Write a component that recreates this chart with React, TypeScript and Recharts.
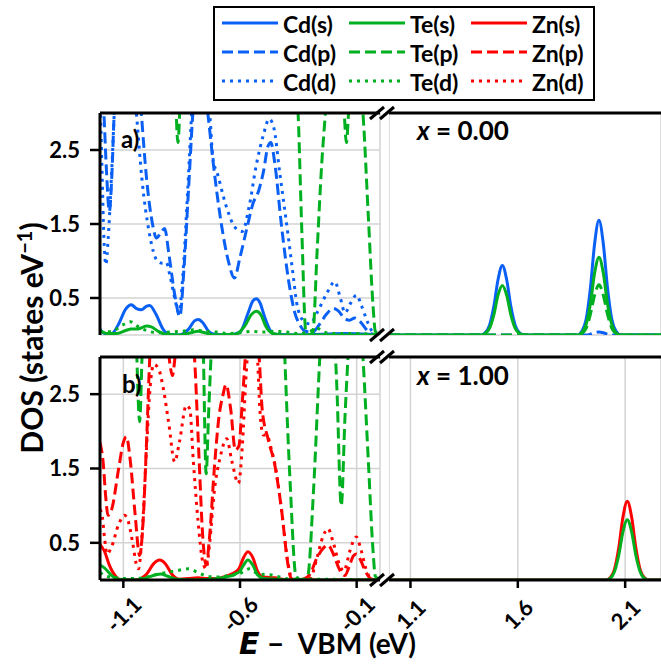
import React from 'react';
import { LineChart, Line, XAxis, YAxis, CartesianGrid, ReferenceLine } from 'recharts';

const BLUE = '#0a60f5';
const GREEN = '#00b020';
const RED = '#ff0000';
const GRID = '#d3d3d3';
const FONT = 'Lato, "DejaVu Sans", sans-serif';

const DASH = '11 5';
const DOT = '3 5';

const yTicks = [0.5, 1.5, 2.5];
const leftTicks = [-1.1, -0.6, -0.1];
const rightTicks = [1.1, 1.6, 2.1];
const leftDomain: [number, number] = [-1.2, 0];
const rightDomain: [number, number] = [1.0, 2.267];

type Pt = [number, number];

// ---- panel a), x = 0.00, valence side ----
const cdS_aL: Pt[] = [[-1.2, 0.08], [-1.18, 0.02], [-1.15, 0.02], [-1.12, 0.15], [-1.09, 0.35], [-1.066, 0.41], [-1.045, 0.36], [-1.023, 0.34], [-1.0, 0.39], [-0.987, 0.4], [-0.96, 0.28], [-0.93, 0.08], [-0.905, 0.01], [-0.86, 0], [-0.82, 0.08], [-0.795, 0.19], [-0.779, 0.21], [-0.76, 0.17], [-0.735, 0.05], [-0.71, 0.01], [-0.65, 0], [-0.6, 0.04], [-0.565, 0.3], [-0.545, 0.46], [-0.53, 0.49], [-0.515, 0.44], [-0.495, 0.25], [-0.47, 0.06], [-0.45, 0.01], [-0.35, 0], [-0.25, 0.01], [-0.15, 0.02], [-0.05, 0.01], [0, 0]];
const cdP_aL: Pt[] = [[-1.2, 3.6], [-1.185, 3.1], [-1.172, 2.2], [-1.16, 1.67], [-1.15, 2.1], [-1.138, 3.1], [-1.12, 3.8], [-1.07, 4.2], [-1.035, 3.5], [-1.023, 3.0], [-1.0, 2.1], [-0.975, 1.5], [-0.958, 1.31], [-0.94, 1.38], [-0.923, 1.44], [-0.905, 1.1], [-0.88, 0.55], [-0.858, 0.25], [-0.84, 0.9], [-0.82, 2.0], [-0.8, 3.1], [-0.78, 3.8], [-0.76, 3.6], [-0.738, 3.0], [-0.71, 2.2], [-0.68, 1.5], [-0.65, 1.0], [-0.624, 0.77], [-0.6, 1.05], [-0.57, 1.45], [-0.544, 1.78], [-0.52, 1.95], [-0.5, 2.2], [-0.48, 2.55], [-0.468, 2.6], [-0.45, 2.3], [-0.423, 1.5], [-0.39, 0.7], [-0.365, 0.3], [-0.344, 0.14], [-0.32, 0.05], [-0.29, 0.04], [-0.26, 0.14], [-0.23, 0.28], [-0.2, 0.36], [-0.18, 0.33], [-0.15, 0.22], [-0.13, 0.2], [-0.108, 0.23], [-0.085, 0.18], [-0.06, 0.08], [-0.03, 0.01], [0, 0]];
const cdD_aL: Pt[] = [[-1.2, 3.3], [-1.192, 2.3], [-1.183, 1.3], [-1.175, 0.95], [-1.165, 1.3], [-1.15, 2.2], [-1.135, 3.2], [-1.1, 3.9], [-1.06, 3.6], [-1.044, 3.0], [-1.02, 2.1], [-0.99, 1.4], [-0.951, 0.99], [-0.93, 0.97], [-0.916, 0.98], [-0.9, 0.8], [-0.88, 0.5], [-0.862, 0.3], [-0.845, 0.8], [-0.825, 1.9], [-0.805, 3.1], [-0.78, 3.9], [-0.75, 3.6], [-0.73, 3.0], [-0.716, 2.39], [-0.695, 2.16], [-0.66, 1.75], [-0.62, 1.45], [-0.59, 1.4], [-0.56, 1.75], [-0.53, 2.3], [-0.5, 2.7], [-0.475, 2.92], [-0.455, 2.8], [-0.43, 2.2], [-0.394, 1.35], [-0.37, 0.75], [-0.358, 0.45], [-0.33, 0.2], [-0.3, 0.15], [-0.27, 0.3], [-0.23, 0.55], [-0.194, 0.72], [-0.17, 0.5], [-0.15, 0.3], [-0.128, 0.42], [-0.1, 0.54], [-0.08, 0.4], [-0.05, 0.15], [-0.023, 0.01], [0, 0]];
const teS_aL: Pt[] = [[-1.2, 0.06], [-1.17, 0.02], [-1.13, 0.02], [-1.09, 0.06], [-1.066, 0.08], [-1.04, 0.08], [-1.0, 0.12], [-0.98, 0.11], [-0.95, 0.05], [-0.92, 0.01], [-0.86, 0], [-0.81, 0.03], [-0.78, 0.05], [-0.75, 0.03], [-0.71, 0], [-0.62, 0.01], [-0.58, 0.12], [-0.55, 0.28], [-0.53, 0.32], [-0.51, 0.27], [-0.49, 0.12], [-0.46, 0.02], [-0.42, 0], [0, 0]];
const teP_aL: Pt[] = [[-1.2, 5], [-0.9, 5], [-0.88, 3.6], [-0.866, 2.6], [-0.852, 3.6], [-0.83, 5], [-0.4, 5], [-0.37, 3.8], [-0.351, 3.0], [-0.335, 1.4], [-0.318, 0.05], [-0.3, 0], [-0.287, 0.05], [-0.27, 1.1], [-0.25, 2.3], [-0.234, 3.0], [-0.21, 4.0], [-0.17, 3.8], [-0.155, 3.1], [-0.144, 2.6], [-0.133, 3.1], [-0.115, 3.8], [-0.09, 3.6], [-0.073, 3.0], [-0.05, 1.6], [-0.03, 0.4], [-0.02, 0.05], [0, 0]];
const teD_aL: Pt[] = [[-1.2, 0.04], [-1.15, 0.05], [-1.1, 0.14], [-1.07, 0.18], [-1.04, 0.12], [-1.0, 0.06], [-0.95, 0.03], [-0.9, 0.04], [-0.85, 0.05], [-0.8, 0.07], [-0.75, 0.05], [-0.7, 0.04], [-0.65, 0.02], [-0.6, 0.03], [-0.55, 0.05], [-0.5, 0.04], [-0.45, 0.05], [-0.4, 0.04], [-0.35, 0.02], [-0.3, 0.05], [-0.27, 0.09], [-0.24, 0.04], [-0.2, 0.02], [-0.1, 0.02], [0, 0]];

// ---- panel a), conduction side ----
const cdS_aR: Pt[] = [[1.0, 0], [1.43, 0], [1.448, 0.03], [1.468, 0.13], [1.488, 0.38], [1.508, 0.75], [1.528, 0.94], [1.548, 0.75], [1.568, 0.38], [1.588, 0.13], [1.608, 0.03], [1.63, 0], [1.88, 0], [1.898, 0.05], [1.918, 0.21], [1.938, 0.63], [1.958, 1.24], [1.978, 1.55], [1.998, 1.24], [2.018, 0.63], [2.038, 0.21], [2.058, 0.05], [2.08, 0], [2.267, 0]];
const cdP_aR: Pt[] = [[1.0, 0], [1.92, 0], [1.938, 0.01], [1.958, 0.03], [1.978, 0.04], [1.998, 0.03], [2.018, 0.01], [2.04, 0], [2.267, 0]];
const teS_aR: Pt[] = [[1.0, 0], [1.43, 0], [1.448, 0.02], [1.468, 0.09], [1.488, 0.27], [1.508, 0.54], [1.528, 0.67], [1.548, 0.54], [1.568, 0.27], [1.588, 0.09], [1.608, 0.02], [1.63, 0], [1.88, 0], [1.898, 0.03], [1.918, 0.14], [1.938, 0.42], [1.958, 0.84], [1.978, 1.05], [1.998, 0.84], [2.018, 0.42], [2.038, 0.14], [2.058, 0.03], [2.08, 0], [2.267, 0]];
const teP_aR: Pt[] = [[1.0, 0], [1.88, 0], [1.898, 0.02], [1.918, 0.09], [1.938, 0.28], [1.958, 0.54], [1.978, 0.68], [1.998, 0.54], [2.018, 0.28], [2.038, 0.09], [2.058, 0.02], [2.08, 0], [2.267, 0]];

// ---- panel b), x = 1.00, valence side ----
const znS_bL: Pt[] = [[-1.2, 0.48], [-1.18, 0.38], [-1.16, 0.2], [-1.13, 0.04], [-1.11, 0], [-1.05, 0], [-1.0, 0.08], [-0.97, 0.22], [-0.944, 0.27], [-0.92, 0.22], [-0.89, 0.07], [-0.86, 0.01], [-0.82, 0.02], [-0.78, 0.03], [-0.74, 0.02], [-0.7, 0.02], [-0.66, 0.05], [-0.63, 0.09], [-0.605, 0.15], [-0.585, 0.3], [-0.566, 0.38], [-0.545, 0.3], [-0.525, 0.12], [-0.5, 0.04], [-0.45, 0.03], [-0.42, 0.01], [-0.38, 0], [0, 0]];
const znP_bL: Pt[] = [[-1.2, 1.85], [-1.187, 1.6], [-1.175, 1.1], [-1.166, 0.87], [-1.15, 0.95], [-1.12, 1.5], [-1.1, 1.85], [-1.087, 1.93], [-1.07, 1.6], [-1.05, 0.9], [-1.03, 0.33], [-1.015, 0.8], [-1.0, 1.9], [-0.985, 3.1], [-0.96, 3.8], [-0.92, 3.5], [-0.9, 2.9], [-0.89, 2.75], [-0.875, 3.1], [-0.85, 3.8], [-0.81, 3.6], [-0.795, 3.0], [-0.775, 1.6], [-0.76, 0.6], [-0.745, 0.2], [-0.73, 0.6], [-0.71, 1.5], [-0.69, 2.2], [-0.673, 2.49], [-0.66, 2.63], [-0.64, 2.3], [-0.62, 1.75], [-0.605, 1.8], [-0.59, 2.4], [-0.575, 3.1], [-0.55, 3.8], [-0.53, 3.4], [-0.518, 3.0], [-0.505, 2.3], [-0.48, 1.9], [-0.451, 1.55], [-0.423, 0.97], [-0.394, 0.2], [-0.38, 0.02], [-0.36, 0], [-0.33, 0.01], [-0.3, 0.08], [-0.27, 0.3], [-0.245, 0.42], [-0.223, 0.47], [-0.2, 0.35], [-0.175, 0.15], [-0.151, 0.06], [-0.13, 0.2], [-0.115, 0.32], [-0.101, 0.35], [-0.085, 0.28], [-0.06, 0.1], [-0.035, 0.01], [0, 0]];
const znD_bL: Pt[] = [[-1.2, 0.95], [-1.19, 0.85], [-1.18, 0.55], [-1.17, 0.35], [-1.15, 0.45], [-1.12, 0.75], [-1.095, 0.87], [-1.08, 0.8], [-1.06, 0.5], [-1.045, 0.22], [-1.035, 0.15], [-1.02, 0.6], [-1.0, 1.8], [-0.985, 2.6], [-0.97, 2.9], [-0.95, 2.85], [-0.93, 2.6], [-0.905, 2.1], [-0.88, 1.59], [-0.86, 1.85], [-0.83, 2.35], [-0.815, 2.3], [-0.8, 1.6], [-0.78, 0.8], [-0.76, 0.25], [-0.745, 0.15], [-0.73, 0.5], [-0.71, 1.2], [-0.685, 1.65], [-0.657, 1.9], [-0.635, 1.6], [-0.607, 1.3], [-0.59, 1.8], [-0.575, 2.7], [-0.56, 3.3], [-0.54, 3.5], [-0.525, 3.0], [-0.515, 2.3], [-0.5, 1.95], [-0.485, 1.95], [-0.465, 1.75], [-0.45, 1.55], [-0.423, 0.97], [-0.394, 0.22], [-0.38, 0.03], [-0.36, 0], [-0.3, 0.02], [-0.27, 0.3], [-0.245, 0.58], [-0.223, 0.69], [-0.2, 0.5], [-0.175, 0.22], [-0.155, 0.12], [-0.13, 0.38], [-0.115, 0.52], [-0.101, 0.58], [-0.085, 0.45], [-0.06, 0.15], [-0.035, 0.01], [0, 0]];
const teS_bL: Pt[] = [[-1.2, 0.2], [-1.18, 0.16], [-1.15, 0.06], [-1.12, 0.01], [-1.05, 0], [-1.0, 0.03], [-0.96, 0.07], [-0.94, 0.08], [-0.91, 0.05], [-0.87, 0.01], [-0.8, 0], [-0.72, 0.01], [-0.66, 0.04], [-0.62, 0.08], [-0.6, 0.12], [-0.585, 0.2], [-0.566, 0.27], [-0.545, 0.2], [-0.525, 0.07], [-0.5, 0.02], [-0.45, 0.01], [-0.4, 0], [0, 0]];
const teP_bL: Pt[] = [[-1.2, 5], [-1.06, 5], [-1.045, 3.3], [-1.03, 2.13], [-1.02, 3.0], [-1.0, 5], [-0.78, 5], [-0.758, 3.2], [-0.745, 1.43], [-0.735, 2.2], [-0.72, 3.3], [-0.69, 5], [-0.43, 5], [-0.408, 3.0], [-0.385, 1.3], [-0.36, 0.05], [-0.335, 0], [-0.31, 0.05], [-0.285, 1.2], [-0.258, 3.0], [-0.23, 4.5], [-0.2, 3.6], [-0.185, 2.6], [-0.166, 1.0], [-0.15, 2.2], [-0.137, 3.0], [-0.11, 4.2], [-0.085, 3.6], [-0.073, 3.0], [-0.05, 1.6], [-0.03, 0.4], [-0.02, 0.05], [0, 0]];
const teD_bL: Pt[] = [[-1.2, 0.1], [-1.17, 0.05], [-1.13, 0.03], [-1.1, 0.02], [-1.05, 0.02], [-1.0, 0.04], [-0.95, 0.08], [-0.88, 0.12], [-0.82, 0.15], [-0.78, 0.1], [-0.74, 0.05], [-0.7, 0.04], [-0.65, 0.06], [-0.6, 0.09], [-0.56, 0.15], [-0.52, 0.08], [-0.47, 0.07], [-0.43, 0.04], [-0.38, 0.01], [-0.3, 0.01], [0, 0]];

// ---- panel b), conduction side ----
const znS_bR: Pt[] = [[1.0, 0], [2.012, 0], [2.03, 0.03], [2.05, 0.14], [2.07, 0.43], [2.09, 0.85], [2.11, 1.06], [2.13, 0.85], [2.15, 0.43], [2.17, 0.14], [2.19, 0.03], [2.21, 0], [2.267, 0]];
const teS_bR: Pt[] = [[1.0, 0], [2.012, 0], [2.03, 0.02], [2.05, 0.11], [2.07, 0.33], [2.09, 0.65], [2.11, 0.81], [2.13, 0.65], [2.15, 0.33], [2.17, 0.11], [2.19, 0.02], [2.21, 0], [2.267, 0]];

type Series = { name: string; color: string; dash?: string; data: Pt[] };

const seriesAL: Series[] = [
  { name: 'Cd(s)', color: BLUE, data: cdS_aL },
  { name: 'Cd(p)', color: BLUE, dash: DASH, data: cdP_aL },
  { name: 'Cd(d)', color: BLUE, dash: DOT, data: cdD_aL },
  { name: 'Te(s)', color: GREEN, data: teS_aL },
  { name: 'Te(p)', color: GREEN, dash: DASH, data: teP_aL },
  { name: 'Te(d)', color: GREEN, dash: DOT, data: teD_aL },
];
const seriesAR: Series[] = [
  { name: 'Cd(s)', color: BLUE, data: cdS_aR },
  { name: 'Cd(p)', color: BLUE, dash: DASH, data: cdP_aR },
  { name: 'Te(s)', color: GREEN, data: teS_aR },
  { name: 'Te(p)', color: GREEN, dash: DASH, data: teP_aR },
];
const seriesBL: Series[] = [
  { name: 'Zn(s)', color: RED, data: znS_bL },
  { name: 'Zn(p)', color: RED, dash: DASH, data: znP_bL },
  { name: 'Zn(d)', color: RED, dash: DOT, data: znD_bL },
  { name: 'Te(s)', color: GREEN, data: teS_bL },
  { name: 'Te(p)', color: GREEN, dash: DASH, data: teP_bL },
  { name: 'Te(d)', color: GREEN, dash: DOT, data: teD_bL },
];
const seriesBR: Series[] = [
  { name: 'Zn(s)', color: RED, data: znS_bR },
  { name: 'Te(s)', color: GREEN, data: teS_bR },
];

const legendCols = [
  { el: 'Cd', color: BLUE },
  { el: 'Te', color: GREEN },
  { el: 'Zn', color: RED },
];
const legendRows = [
  { orb: 's', dash: undefined },
  { orb: 'p', dash: DASH },
  { orb: 'd', dash: DOT },
];

const toPts = (arr: Pt[]) => arr.map(([e, v]) => ({ e, v }));

// tick labels turned 45 degrees, reading upward to the right
const RotTick = (props: any) => {
  const { x, y, payload } = props;
  const cy = y + 24;
  return (
    <g transform={`translate(${x},${cy})`}>
      <text
        x={0}
        y={0}
        transform='rotate(-45)'
        textAnchor='middle'
        dominantBaseline='central'
        fill='#000'
        fontFamily={FONT}
        fontWeight={700}
        fontSize={22}
      >
        {payload.value.toFixed(1)}
      </text>
    </g>
  );
};

function Panel({
  left,
  top,
  width,
  height,
  domain,
  xTicks,
  series,
  withY,
  withXLabels,
}: {
  left: number;
  top: number;
  width: number;
  height: number;
  domain: [number, number];
  xTicks: number[];
  series: Series[];
  withY: boolean;
  withXLabels: boolean;
}) {
  const margin = { top: 10, right: withY ? 10 : 0, bottom: withXLabels ? 0 : 10, left: withY ? 50 : 0 };
  return (
    <div style={{ position: 'absolute', left, top }}>
      <LineChart width={width} height={height} margin={margin}>
        <CartesianGrid stroke={GRID} strokeWidth={1.5} />
        <XAxis
          type='number'
          dataKey='e'
          domain={domain}
          allowDataOverflow
          ticks={xTicks}
          interval={0}
          height={withXLabels ? 70 : 0}
          axisLine={{ stroke: '#000', strokeWidth: 3 }}
          tickLine={withXLabels ? { stroke: '#000', strokeWidth: 2.5 } : false}
          tickSize={8}
          tick={withXLabels ? <RotTick /> : false}
        />
        <YAxis
          type='number'
          domain={[0, 3]}
          allowDataOverflow
          ticks={yTicks}
          interval={0}
          width={withY ? 50 : 0}
          axisLine={withY ? { stroke: '#000', strokeWidth: 3 } : false}
          tickLine={withY ? { stroke: '#000', strokeWidth: 2.5 } : false}
          tickSize={10}
          tickMargin={10}
          tick={withY ? { fill: '#000', fontSize: 22, fontWeight: 700, fontFamily: FONT } : false}
          tickFormatter={(v: number) => v.toFixed(1)}
        />
        {series.map((s) => (
          <Line
            key={s.name}
            data={toPts(s.data)}
            dataKey='v'
            type='monotone'
            stroke={s.color}
            strokeWidth={3}
            strokeDasharray={s.dash}
            dot={false}
            activeDot={false}
            isAnimationActive={false}
          />
        ))}
        <ReferenceLine y={3} stroke='#000' strokeWidth={3} />
      </LineChart>
    </div>
  );
}

const breakYs = [113, 335, 357, 580];

export default function App() {
  return (
    <div style={{ position: 'absolute', left: 0, top: 0, width: 661, height: 664, overflow: 'hidden', background: '#fff' }}>
      <Panel left={0} top={103} width={390} height={242} domain={leftDomain} xTicks={leftTicks} series={seriesAL} withY withXLabels={false} />
      <Panel left={389} top={103} width={272} height={242} domain={rightDomain} xTicks={rightTicks} series={seriesAR} withY={false} withXLabels={false} />
      <Panel left={0} top={347} width={390} height={303} domain={leftDomain} xTicks={leftTicks} series={seriesBL} withY withXLabels />
      <Panel left={389} top={347} width={272} height={303} domain={rightDomain} xTicks={rightTicks} series={seriesBR} withY={false} withXLabels />

      <svg width={661} height={664} style={{ position: 'absolute', left: 0, top: 0, pointerEvents: 'none' }}>
        {/* axis-break marks */}
        {breakYs.map((y) => (
          <g key={y} stroke='#000' strokeWidth={3}>
            <line x1={370} y1={y + 6} x2={384} y2={y - 6} />
            <line x1={380} y1={y + 6} x2={394} y2={y - 6} />
          </g>
        ))}

        {/* legend */}
        <rect x={214} y={7} width={380} height={93} fill='#fff' stroke='#000' strokeWidth={2} />
        {legendCols.map((c, ci) =>
          legendRows.map((r, ri) => {
            const x0 = [222, 349, 471][ci];
            const y0 = 23 + ri * 29;
            return (
              <g key={`${ci}-${ri}`}>
                <line x1={x0} y1={y0} x2={x0 + 56} y2={y0} stroke={c.color} strokeWidth={3} strokeDasharray={r.dash} />
                <text x={x0 + 61} y={y0 + 1} dominantBaseline='central' fontFamily={FONT} fontWeight={700} fontSize={23} fill='#000'>
                  {`${c.el}(${r.orb})`}
                </text>
              </g>
            );
          })
        )}

        {/* panel tags */}
        <text x={121} y={148} fontFamily={FONT} fontWeight={700} fontSize={24} fill='#000'>a)</text>
        <text x={122} y={393} fontFamily={FONT} fontWeight={700} fontSize={24} fill='#000'>b)</text>
        <text x={417} y={140} fontFamily={FONT} fontWeight={700} fontSize={26} fill='#000'>
          <tspan fontStyle='italic'>x</tspan> = 0.00
        </text>
        <text x={417} y={385} fontFamily={FONT} fontWeight={700} fontSize={26} fill='#000'>
          <tspan fontStyle='italic'>x</tspan> = 1.00
        </text>

        {/* axis titles */}
        <text transform='rotate(-90)' x={-338} y={43} textAnchor='middle' fontFamily={FONT} fontWeight={700} fontSize={30} fill='#000'>
          DOS (states eV<tspan dy={-11} fontSize={20}>−1</tspan><tspan dy={11}>)</tspan>
        </text>
        <text x={239} y={654} fontFamily={FONT} fontWeight={700} fontSize={28} fill='#000'>
          <tspan fontFamily='"DejaVu Sans", sans-serif' fontStyle='italic' fontSize={30}>E</tspan>
          <tspan dx={8}>−</tspan>
          <tspan dx={14}>VBM (eV)</tspan>
        </text>
      </svg>
    </div>
  );
}
